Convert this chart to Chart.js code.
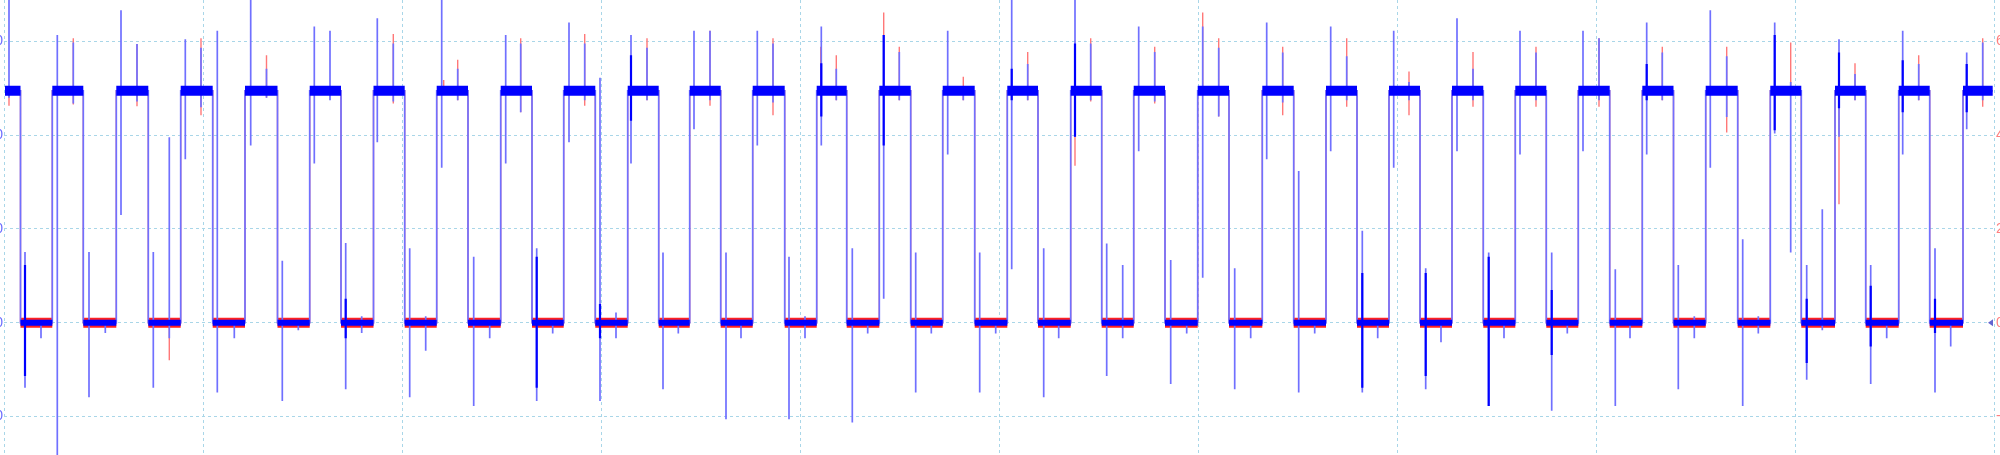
<!DOCTYPE html>
<html><head><meta charset="utf-8">
<script src="https://cdn.jsdelivr.net/npm/chart.js@4/dist/chart.umd.min.js"></script>
<style>
html,body{margin:0;padding:0;background:#fff;overflow:hidden;}
#frame{position:relative;width:2000px;height:455px;overflow:hidden;background:#fff;}
#wrap{position:absolute;left:-60px;top:0;width:2100px;height:455px;}
</style></head><body>
<div id="frame"><div id="wrap"><canvas id="c"></canvas></div></div>
<script>
// ---- data (time in samples, voltage in V) ----
const levels = [4.95, 0];           // high level, low level
const startTime = 1, endTime = 1988.7;
const fallTimes = [16.5, 79.3, 144.3, 208.7, 273.5, 337, 400.7, 464, 528, 591.3,
  654.7, 716.7, 780.7, 842.7, 906.7, 970.7, 1034, 1097.7, 1161, 1225,
  1289.7, 1353, 1416, 1479.3, 1542.3, 1605.7, 1669.5, 1733.7, 1797.3, 1861.7, 1925.7];
const riseTimes = [48.3, 112.3, 176.7, 241, 305.7, 369.5, 432.7, 496.7, 559.7, 623.7,
  685.7, 748.7, 812.7, 875.3, 938.7, 1003.3, 1066.7, 1129.7, 1193.7, 1258.3,
  1322, 1385, 1448, 1511.3, 1574.3, 1638.3, 1701.7, 1766.3, 1831, 1894.7, 1959];
// [time, top, bottom]
const blueSpikes = [
  [5,7.2,4.80],[21,1.51,-1.39],[37,0,-0.33],[53.3,6.14,-3.2],[69.3,5.98,4.68],[85,1.51,-1.59],[101.3,0,-0.22],
  [117,6.67,2.30],[133,5.95,4.72],[149.3,1.51,-1.39],[165.3,3.96,-0.33],[181.3,6.05,3.49],[197,5.87,4.60],
  [213.3,6.23,-1.49],[230.3,0,-0.33],[246.7,7.2,3.78],[262.5,5.42,4.80],[278.3,1.32,-1.67],[294.3,0,-0.16],
  [310.3,6.32,3.40],[326,6.23,4.75],[341.7,1.70,-1.42],[357.7,0.14,-0.22],[373.3,6.50,3.85],[389.3,5.96,4.72],
  [405.7,1.59,-1.59],[421.7,0.14,-0.60],[437.7,7.2,3.31],[453.7,5.42,4.75],[469.7,1.41,-1.78],[485.7,0,-0.33],
  [501.7,6.14,3.40],[516.7,5.96,4.49],[532.7,1.59,-1.67],[548.7,0,-0.23],[565,6.41,3.85],[580.7,5.96,4.75],
  [596,5.23,-1.67],[612,0.22,-0.33],[627,6.14,3.40],[643,5.87,4.75],[659,1.50,-1.42],[674.3,0,-0.23],
  [690,6.23,4.13],[706,6.23,4.75],[722,1.50,-2.06],[737,0,-0.33],[753.3,6.23,3.78],[769,5.96,4.70],
  [785,1.41,-2.06],[801,0.14,-0.33],[817.3,6.32,3.78],[832.3,5.42,4.75],[848.3,1.59,-2.13],[863.7,0,-0.23],
  [879.7,6.14,0.51],[895.3,5.78,4.75],[911.7,1.50,-1.49],[927.3,0,-0.23],[943.7,6.23,3.59],[959.3,4.95,4.75],
  [975.7,1.50,-1.49],[991.7,0,-0.23],[1007.7,7.2,1.14],[1023.7,5.52,4.75],[1039.7,1.59,-1.59],[1054.7,0,-0.33],
  [1071,7.2,3.97],[1086.7,5.96,4.75],[1102.7,1.69,-1.14],[1118.7,1.23,-0.33],[1134.7,6.32,3.66],[1150.7,5.78,4.72],
  [1166.7,1.34,-1.31],[1182.7,0,-0.23],[1198.7,6.32,0.96],[1214.7,5.87,4.40],[1230.7,1.16,-1.42],[1246.7,0,-0.33],
  [1262.7,6.41,3.49],[1278.7,5.77,4.70],[1294.7,3.24,-1.49],[1310.7,0,-0.23],[1326.7,6.32,3.66],[1342.7,5.69,4.75],
  [1358.3,1.96,-1.49],[1373.7,0,-0.33],[1389.7,6.23,3.31],[1405,5.14,4.75],[1421.7,1.16,-1.42],[1437,0,-0.42],
  [1453,6.50,3.66],[1469,5.42,4.75],[1484.7,1.50,-1.78],[1500,0,-0.33],[1516,6.23,3.59],[1532,5.77,4.75],
  [1547.7,1.50,-1.88],[1563.3,0,-0.23],[1579,6.23,3.66],[1595,6.07,4.75],[1611.3,1.14,-1.78],[1626,0,-0.33],
  [1642.7,6.41,3.59],[1658.3,5.77,4.75],[1674.3,1.23,-1.42],[1690.3,0.14,-0.33],[1706.3,6.67,3.31],[1722.7,5.69,4.39],
  [1738.7,1.78,-1.78],[1754.3,0.14,-0.23],[1770.7,6.41,4.04],[1786.7,5.14,1.50],[1802.7,1.23,-1.22],[1818.3,2.42,-0.16],
  [1835,6.05,3.97],[1851,5.31,4.75],[1866.7,1.23,-1.31],[1882.7,0,-0.33],[1898.7,6.23,3.59],[1914.7,5.52,4.75],
  [1931,1.59,-1.49],[1946.7,0,-0.51],[1962.7,5.77,4.13],[1978.7,5.98,4.75]
];
const redSpikes = [
  [5,4.95,4.63],[69.3,6.07,4.66],[133,5.95,4.62],[165.3,0,-0.80],[197,6.07,4.43],[262.5,5.71,4.80],
  [389.3,6.16,4.68],[439.7,5.18,4.95],[453.7,5.61,4.75],[516.7,6.07,4.49],[580.7,6.16,4.63],[643,6.07,4.75],
  [706,6.23,4.63],[769,6.07,4.43],[816.7,5.89,4.95],[832.3,5.71,4.75],[879.7,6.62,4.95],[895.3,5.89,4.75],
  [959.3,5.25,4.75],[1023.7,5.78,4.75],[1071,4.95,3.35],[1086.7,6.07,4.72],[1150.7,5.89,4.68],[1198.7,6.62,4.95],
  [1214.7,6.07,4.40],[1278.7,5.89,4.43],[1342.7,6.07,4.61],[1405,5.36,4.43],[1469,5.78,4.61],[1532,5.89,4.61],
  [1595,6.07,4.61],[1658.3,5.89,4.75],[1722.7,5.89,4.06],[1786.7,5.98,4.95],[1835,4.95,2.53],[1851,5.54,4.75],
  [1914.7,5.71,4.75],[1978.7,6.07,4.61]
];
// dense (overlapping) parts of some glitches: [time, top, bottom]
const blueBursts = [
  [21,1.23,-1.14],[341.7,0.51,-0.33],[532.7,1.41,-1.39],[596,0.40,-0.33],[627,5.71,4.31],[817.3,5.54,4.40],
  [879.7,6.14,3.78],[1007.7,5.42,4.75],[1071,5.96,3.97],[1358.3,1.06,-1.39],[1421.7,1.06,-1.14],[1484.7,1.41,-1.78],
  [1547.7,0.70,-0.69],[1642.7,5.52,4.75],[1770.7,6.14,4.11],[1802.7,0.51,-0.86],[1835,5.77,4.58],[1866.7,0.79,-0.51],
  [1898.7,5.60,4.49],[1931,0.51,-0.22],[1962.7,5.52,4.49]
];
const timeRange = [0, 1990], timeStep = 199;
const voltRange = [-2.824, 6.888];
const rightTicks = [-2, 0, 2, 4, 6];
const rightTickLabels = ['-2', '0', '2', '4', '6'];
const leftTicks = [-20, 0, 20, 40, 60];
const leftTickLabels = ['-20', '0', '20', '40', '60'];

// ---- build series from the arrays ----
function buildTrace(spikes) {
  const ev = [];
  fallTimes.forEach(t => ev.push({t, edge: true, to: levels[1]}));
  riseTimes.forEach(t => ev.push({t, edge: true, to: levels[0]}));
  spikes.forEach(s => ev.push({t: s[0], edge: false, top: s[1], bot: s[2]}));
  ev.sort((a, b) => a.t - b.t);
  let lvl = levels[0];
  const pts = [{x: startTime, y: lvl}];
  for (const e of ev) {
    if (e.edge) { pts.push({x: e.t, y: lvl}); lvl = e.to; pts.push({x: e.t, y: lvl}); }
    else pts.push({x: e.t, y: lvl}, {x: e.t, y: e.top}, {x: e.t, y: e.bot}, {x: e.t, y: lvl});
  }
  pts.push({x: endTime, y: lvl});
  return pts;
}
function plateaus(level, starts, ends) {
  const pts = [];
  starts.forEach((s, i) => { pts.push({x: s, y: level}, {x: ends[i], y: level}, {x: ends[i], y: null}); });
  return pts;
}
function bursts(list) {
  const pts = [];
  list.forEach(b => pts.push({x: b[0], y: b[1]}, {x: b[0], y: b[2]}, {x: b[0], y: null}));
  return pts;
}
const highStarts = [startTime, ...riseTimes], highEnds = [...fallTimes, endTime];

const line = (data, color, width, order) => ({
  data, borderColor: color, borderWidth: width, pointRadius: 0, tension: 0,
  spanGaps: false, fill: false, order, borderCapStyle: 'butt', yAxisID: 'y'
});

const groundMarker = {
  id: 'groundMarker',
  afterDraw(chart) {
    const {ctx, chartArea, scales} = chart;
    const y = scales.y.getPixelForValue(levels[1]);
    const xr = chartArea.right - 1;
    ctx.save();
    ctx.fillStyle = '#6464d0';
    ctx.beginPath();
    ctx.moveTo(xr - 5, y); ctx.lineTo(xr, y - 3.5); ctx.lineTo(xr, y + 3.5); ctx.closePath();
    ctx.fill();
    ctx.restore();
  }
};
const noPad = s => { s.paddingTop = 0; s.paddingBottom = 0; s.paddingLeft = 0; s.paddingRight = 0; };

const gridColor = '#a9d6e8';
new Chart(document.getElementById('c'), {
  type: 'line',
  data: { datasets: [
    line(bursts(blueBursts), '#0000ff', 2.2, 0),
    line(plateaus(levels[0], highStarts, highEnds), '#0000ff', 10, 1),
    line(plateaus(levels[1], fallTimes, riseTimes), '#0000ff', 6, 1),
    line(buildTrace(blueSpikes), '#7070ff', 1.7, 3),
    line(plateaus(levels[1], fallTimes, riseTimes), '#ff2020', 10, 4),
    line(buildTrace(redSpikes), '#ff7878', 1.4, 5)
  ]},
  options: {
    responsive: true, maintainAspectRatio: false, animation: false,
    events: [],
    layout: { padding: 0, autoPadding: false },
    plugins: { legend: { display: false }, tooltip: { enabled: false } },
    scales: {
      x: {
        type: 'linear', min: timeRange[0], max: timeRange[1],
        ticks: { display: false, stepSize: timeStep },
        grid: { color: gridColor, lineWidth: 1, drawTicks: false },
        border: { display: false, dash: [3, 3] },
        afterFit: s => { s.height = 0; noPad(s); }
      },
      yL: {
        type: 'linear', position: 'left', min: voltRange[0] * 10, max: voltRange[1] * 10,
        afterBuildTicks: s => { s.ticks = leftTicks.map(v => ({value: v})); },
        ticks: { color: '#6b6bff', padding: 1, font: { size: 14, family: 'Liberation Sans, Arial, sans-serif' },
          callback: v => leftTickLabels[leftTicks.indexOf(v)] },
        grid: { display: false, drawTicks: false },
        border: { display: false },
        afterFit: s => { s.width = 64; noPad(s); }
      },
      y: {
        type: 'linear', position: 'right', min: voltRange[0], max: voltRange[1],
        afterBuildTicks: s => { s.ticks = rightTicks.map(v => ({value: v})); },
        ticks: { color: '#ff7f7f', padding: 2, font: { size: 14, family: 'Liberation Sans, Arial, sans-serif' },
          callback: v => rightTickLabels[rightTicks.indexOf(v)] },
        grid: { color: gridColor, lineWidth: 1, drawTicks: false },
        border: { display: false, dash: [3, 3] },
        afterFit: s => { s.width = 46; noPad(s); }
      }
    }
  },
  plugins: [groundMarker]
});
</script>
</body></html>
